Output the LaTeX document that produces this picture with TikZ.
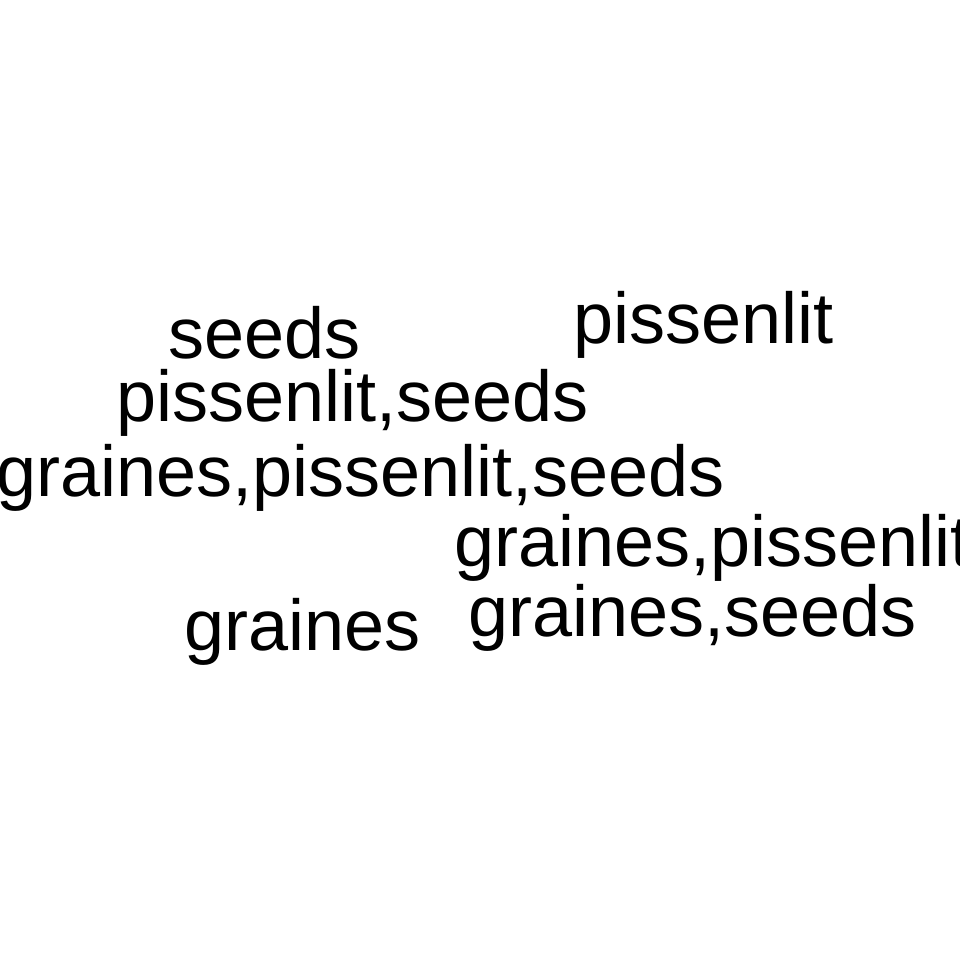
\documentclass[tikz,border=0pt]{standalone}
\usepackage{fontspec}
\setmainfont{Liberation Sans}
\begin{document}
\begin{tikzpicture}[x=1pt,y=-1pt,
  lbl/.style={anchor=base west,inner sep=0pt,font=\fontsize{72}{86}\selectfont}]
\useasboundingbox (0,0) rectangle (960,960);
\node[lbl] (s) at (168,358) {seeds};
\node[lbl] (p) at (573,343) {pissenlit};
\node[lbl] (ps) at (116,421) {pissenlit,seeds};
\node[lbl] (gps) at (-4,496) {graines,pissenlit,seeds};
\node[lbl] (gp) at (454,566) {graines,pissenlit};
\node[lbl] (gs) at (468,636) {graines,seeds};
\node[lbl] (g) at (184,650) {graines};
\end{tikzpicture}
\end{document}
